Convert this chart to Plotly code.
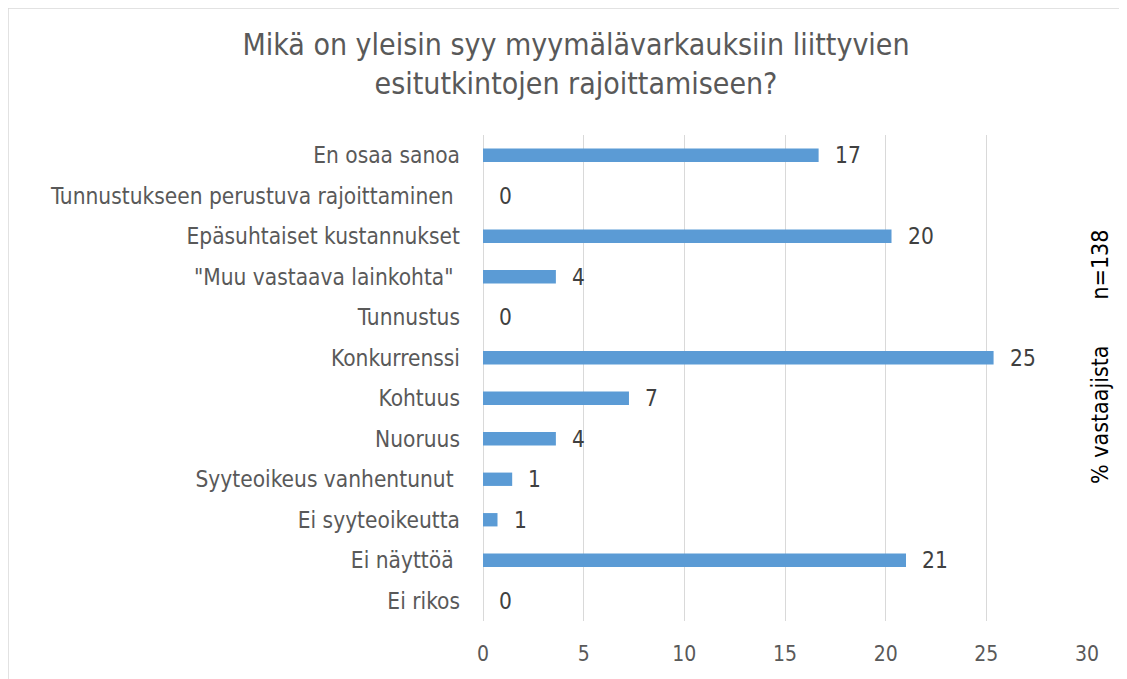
import plotly.graph_objects as go

categories = ["En osaa sanoa", "Tunnustukseen perustuva rajoittaminen ", "Epäsuhtaiset kustannukset",
              "\"Muu vastaava lainkohta\" ", "Tunnustus", "Konkurrenssi", "Kohtuus", "Nuoruus",
              "Syyteoikeus vanhentunut ", "Ei syyteoikeutta", "Ei näyttöä ", "Ei rikos"]
values = [16.67, 0, 20.29, 3.62, 0, 25.36, 7.25, 3.62, 1.45, 0.72, 21.01, 0]
labels = ["17", "0", "20", "4", "0", "25", "7", "4", "1", "1", "21", "0"]
x_ticks = [0, 5, 10, 15, 20, 25, 30]

COND = "DejaVu Sans Condensed, DejaVu Sans"

fig = go.Figure()
fig.add_trace(go.Bar(
    y=categories, x=values, orientation="h",
    marker=dict(color="#5b9bd5", line=dict(width=0)),
    width=0.33, hoverinfo="skip",
))

for c, v, t in zip(categories, values, labels):
    fig.add_annotation(x=v, y=c, text=t, showarrow=False, xanchor="left", yanchor="middle",
                       xshift=14, font=dict(family=COND, size=22.5, color="#404040"))

fig.add_annotation(xref="paper", yref="paper", x=1.0 + 13 / 604, y=(613 - 349) / 486,
                   text="% vastaajista\u00a0\u00a0\u00a0\u00a0\u00a0\u00a0\u00a0n=138",
                   textangle=-90, showarrow=False, xanchor="center", yanchor="middle",
                   font=dict(family=COND, size=23, color="#000000"))

# outer chart border (page has an 8px body margin)
fig.add_shape(type="rect", xref="paper", yref="paper",
              x0=(0 - 475) / 604, x1=(1140 - 475) / 604,
              y0=-(700 - 613) / 486, y1=1 + (127 - 0) / 486,
              line=dict(color="#d9d9d9", width=1.5), fillcolor="rgba(0,0,0,0)", layer="below")

fig.update_layout(
    width=1119, height=671,
    margin=dict(l=475, r=40, t=127, b=58),
    paper_bgcolor="white", plot_bgcolor="white",
    showlegend=False,
    title=dict(text="Mikä on yleisin syy myymälävarkauksiin liittyvien<br>esitutkintojen rajoittamiseen?",
               x=(576 - 8) / 1119, xanchor="center", y=1 - 47 / 671, yanchor="middle",
               font=dict(family=COND, size=30, color="#595959")),
    xaxis=dict(range=[0, 30], tickvals=x_ticks, showgrid=True, gridcolor="#d9d9d9", gridwidth=1.3,
               zeroline=True, zerolinecolor="#d9d9d9", zerolinewidth=1.3, showline=False,
               ticks="", ticklabelstandoff=18,
               tickfont=dict(family=COND, size=21, color="#595959"),
               fixedrange=True),
    yaxis=dict(categoryorder="array", categoryarray=categories[::-1], autorange=False,
               range=[-0.5, 11.5], showgrid=False, showline=False, ticks="",
               ticklabelstandoff=22,
               tickfont=dict(family=COND, size=22.5, color="#595959")),
    bargap=0.67,
)

fig.write_html("out.html")
